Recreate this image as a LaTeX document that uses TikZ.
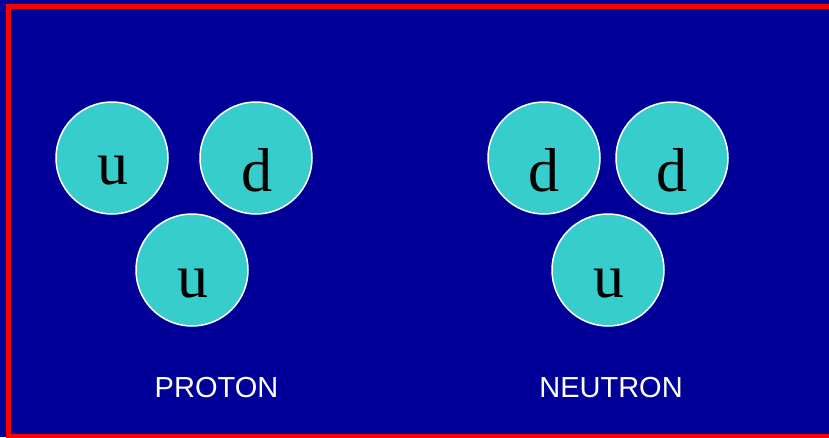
\documentclass[tikz,border=0pt]{standalone}
\usepackage{fontspec}
\setmainfont{Liberation Serif}
\newfontfamily\labelfont{Liberation Sans}
\usetikzlibrary{positioning}
\definecolor{SlideBlue}{HTML}{000099}
\definecolor{QuarkCyan}{HTML}{38CDCD}
\definecolor{FrameRed}{HTML}{FF0000}
\tikzset{
  quark/.style={circle,draw=white,line width=1.5pt,fill=QuarkCyan,
                minimum size=112pt,inner sep=0pt},
  flavour/.style={anchor=base,inner sep=0pt,text=black,
                  font=\fontsize{62}{62}\selectfont},
  hadron/.style={anchor=base,inner sep=0pt,text=white,
                 font=\labelfont\fontsize{29}{29}\selectfont}
}
\begin{document}
\begin{tikzpicture}[x=1pt,y=-1pt]
  \useasboundingbox (0,0) rectangle (829,437);
  \clip (0,0) rectangle (829,437);
  \fill[SlideBlue] (0,0) rectangle (829,437);
  \draw[FrameRed,line width=5pt] (8.5,6.5) rectangle (840,436.5);
  % proton
  \node[quark] (pu1) at (112,158) {};
  \node[quark] (pd1) at (256,158) {};
  \node[quark] (pu2) at (192,270) {};
  \node[flavour] (pu1t) at (113,184) {u};
  \node[flavour] (pd1t) at (256.5,191) {d};
  \node[flavour] (pu2t) at (193,297) {u};
  \node[hadron] (proton) at (216.5,397) {PROTON};
  % neutron
  \node[quark] (nd1) at (544,158) {};
  \node[quark] (nd2) at (672,158) {};
  \node[quark] (nu1) at (608,270) {};
  \node[flavour] (nd1t) at (544,191) {d};
  \node[flavour] (nd2t) at (672,191) {d};
  \node[flavour] (nu1t) at (609,297) {u};
  \node[hadron] (neutron) at (611,397) {NEUTRON};
\end{tikzpicture}
\end{document}
